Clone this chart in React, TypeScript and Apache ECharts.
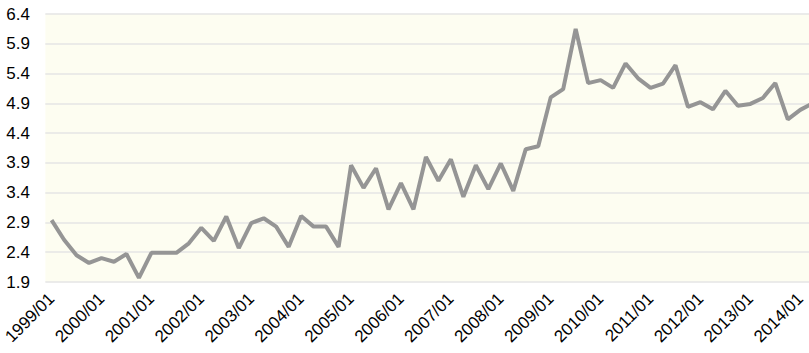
import React, { useEffect, useRef } from "react";
import * as echarts from "echarts";

const years = ["1999", "2000", "2001", "2002", "2003", "2004", "2005", "2006", "2007", "2008", "2009", "2010", "2011", "2012", "2013", "2014"];
const quarterMonths = ["01", "04", "07", "10"];
const categories: string[] = [];
years.forEach((y) => quarterMonths.forEach((m) => categories.push(`${y}/${m}`)));
const shownCategories = categories.slice(0, 62);

const values = [
  2.94, 2.61, 2.35, 2.22, 2.30, 2.24, 2.37, 1.97,
  2.39, 2.39, 2.39, 2.55, 2.81, 2.59, 3.00, 2.47,
  2.89, 2.97, 2.83, 2.49, 3.01, 2.83, 2.83, 2.49,
  3.86, 3.48, 3.81, 3.12, 3.56, 3.12, 4.00, 3.60,
  3.96, 3.33, 3.86, 3.46, 3.89, 3.43, 4.13, 4.18,
  5.00, 5.14, 6.15, 5.24, 5.29, 5.16, 5.57, 5.32,
  5.16, 5.23, 5.54, 4.84, 4.92, 4.80, 5.11, 4.86,
  4.89, 4.99, 5.24, 4.63, 4.79, 4.90,
];

const yMin = 1.9;
const yMax = 6.4;
const yStep = 0.5;

export default function App() {
  const ref = useRef<HTMLDivElement>(null);
  useEffect(() => {
    if (!ref.current) return;
    const chart = echarts.init(ref.current, null, { renderer: "svg" });
    chart.setOption({
      animation: false,
      grid: {
        left: 45,
        right: 1,
        top: 14,
        bottom: 71,
        show: true,
        backgroundColor: "#fdfdf1",
        borderWidth: 0,
      },
      xAxis: {
        type: "category",
        data: shownCategories,
        boundaryGap: true,
        axisLine: { show: false },
        axisTick: { show: false },
        axisLabel: {
          interval: 3,
          rotate: 45,
          margin: 14,
          color: "#000",
          fontSize: 17,
          fontFamily: "Liberation Sans, Arial, sans-serif",
        },
      },
      yAxis: {
        type: "value",
        min: yMin,
        max: yMax,
        interval: yStep,
        axisLine: { show: false },
        axisTick: { show: false },
        splitLine: { lineStyle: { color: "#e4e4e4", width: 1.5 } },
        axisLabel: {
          align: "left",
          margin: 39,
          color: "#000",
          fontSize: 17,
          fontFamily: "Liberation Sans, Arial, sans-serif",
          formatter: (v: number) => v.toFixed(1),
        },
      },
      series: [
        {
          type: "line",
          data: values,
          symbol: "none",
          lineStyle: { color: "#959595", width: 4 },
        },
      ],
    });
    return () => chart.dispose();
  }, []);
  return (
    <div style={{ position: "absolute", left: 0, top: 0, width: 809, height: 353, overflow: "hidden", background: "#fff" }}>
      <div ref={ref} style={{ width: 820, height: 353 }} />
    </div>
  );
}
